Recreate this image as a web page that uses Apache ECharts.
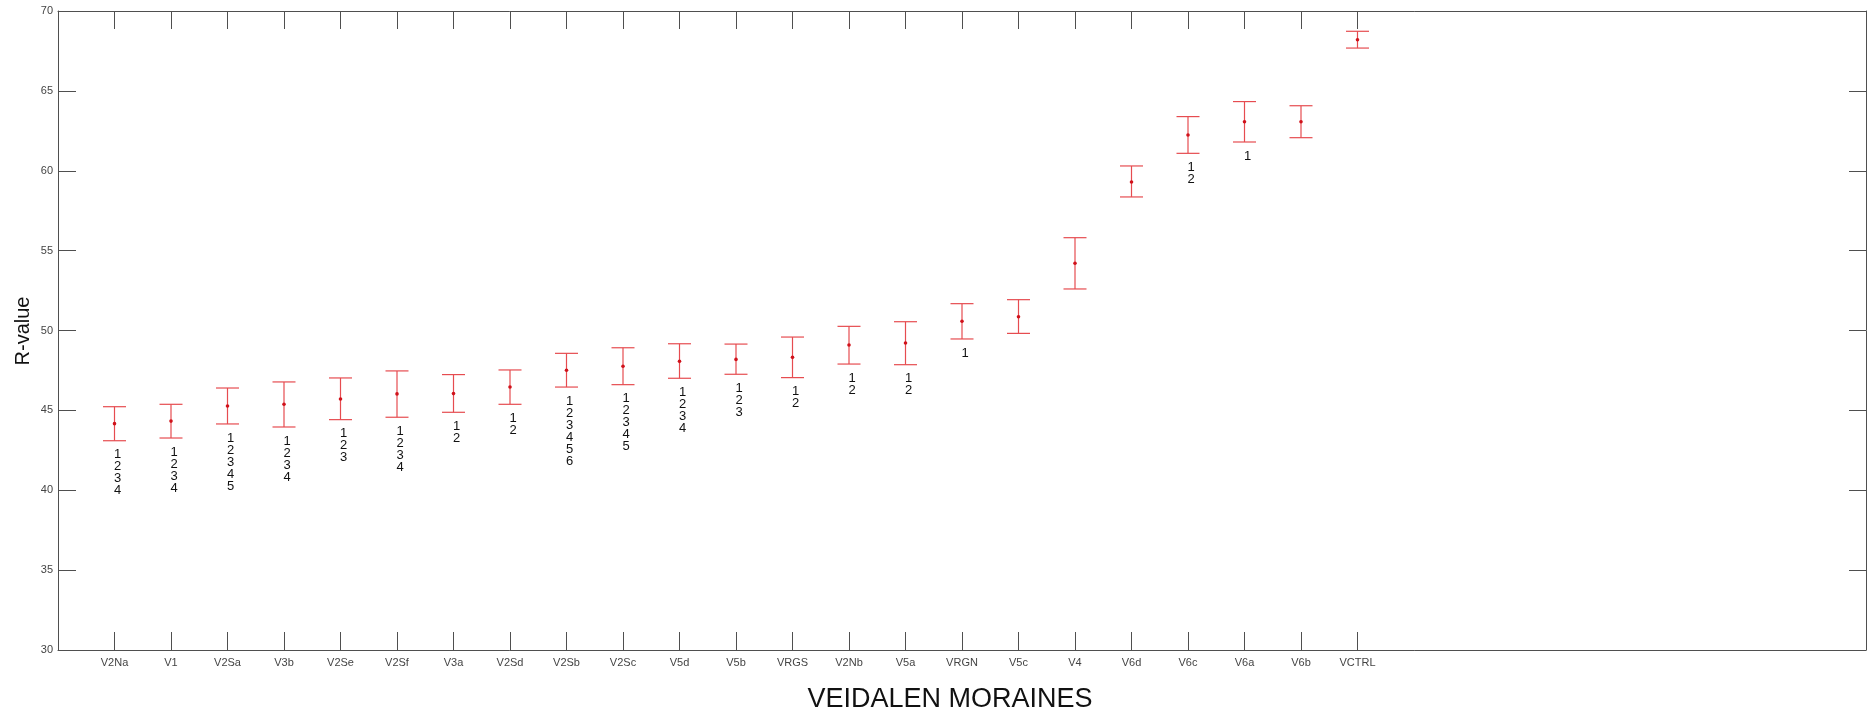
<!DOCTYPE html>
<html>
<head>
<meta charset="utf-8">
<title>Veidalen moraines R-value</title>
<script src="https://cdn.jsdelivr.net/npm/echarts@6/dist/echarts.min.js"></script>
<style>
  html, body { margin: 0; padding: 0; background: #fff; }
  #chart { width: 1867px; height: 716px; }
</style>
</head>
<body>
<div id="chart"></div>
<script>
// Moraine sites, ordered by mean R-value
const categories = ['V2Na','V1','V2Sa','V3b','V2Se','V2Sf','V3a','V2Sd','V2Sb','V2Sc','V5d','V5b','VRGS','V2Nb','V5a','VRGN','V5c','V4','V6d','V6c','V6a','V6b','VCTRL'];
// Mean R-value per site
const means = [44.17,44.33,45.27,45.38,45.71,46.03,46.05,46.46,47.51,47.76,48.07,48.19,48.32,49.09,49.22,50.58,50.86,54.21,59.30,62.24,63.07,63.07,68.20];
// Upper and lower ends of the error bars
const upper = [45.23,45.38,46.40,46.78,47.03,47.47,47.24,47.53,48.57,48.92,49.17,49.15,49.59,50.26,50.55,51.68,51.93,55.81,60.30,63.39,64.33,64.07,68.73];
const lower = [43.10,43.27,44.15,43.96,44.42,44.57,44.88,45.38,46.46,46.61,47.01,47.26,47.05,47.90,47.86,49.47,49.82,52.60,58.36,61.09,61.80,62.07,67.68];
// Homogeneous-group membership printed under each bar
const groups = ['1234','1234','12345','1234','123','1234','12','12','123456','12345','1234','123','12','12','12','1','','','','12','1','',''];
// Y axis ticks
const yMin = 30, yMax = 70, yStep = 5;
// Empty slots on the category axis (one before the first site, the rest after the last)
const leadSlots = 1, tailSlots = 9;

const slots = [].concat(Array(leadSlots).fill(''), categories, Array(tailSlots).fill(''));
const isSite = (i) => i >= leadSlots && i < leadSlots + categories.length;

const barData = categories.map((c, i) => [
  i + leadSlots, means[i], lower[i], upper[i], groups[i].split('').join('\n')
]);

const axisColor = '#4f4f4f';
const barColor = '#e64c50';
const font = '"Liberation Sans", Arial, Helvetica, sans-serif';

const chart = echarts.init(document.getElementById('chart'), null, { renderer: 'canvas' });

const option = {
  backgroundColor: '#ffffff',
  animation: false,
  textStyle: { fontFamily: font },
  grid: { left: 58, right: 1, top: 11, bottom: 66, containLabel: false },
  xAxis: [
    {
      type: 'category',
      data: slots,
      boundaryGap: false,
      position: 'bottom',
      axisLine: { show: true, lineStyle: { color: axisColor, width: 1 } },
      axisTick: { show: true, inside: true, length: 18, interval: (i) => isSite(i), lineStyle: { color: axisColor } },
      axisLabel: { show: true, interval: (i) => isSite(i), color: '#444', fontSize: 11, margin: 7, fontFamily: font },
      splitLine: { show: false }
    },
    {
      type: 'category',
      data: slots,
      boundaryGap: false,
      position: 'top',
      axisLine: { show: true, lineStyle: { color: axisColor, width: 1 } },
      axisTick: { show: true, inside: true, length: 18, interval: (i) => isSite(i), lineStyle: { color: axisColor } },
      axisLabel: { show: false },
      splitLine: { show: false }
    }
  ],
  yAxis: [
    {
      type: 'value',
      min: yMin, max: yMax, interval: yStep,
      position: 'left',
      axisLine: { show: true, lineStyle: { color: axisColor, width: 1 } },
      axisTick: { show: true, inside: true, length: 18, lineStyle: { color: axisColor } },
      axisLabel: { color: '#444', fontSize: 11, margin: 5, fontFamily: font },
      splitLine: { show: false }
    },
    {
      type: 'value',
      min: yMin, max: yMax, interval: yStep,
      position: 'right',
      axisLine: { show: true, lineStyle: { color: axisColor, width: 1 } },
      axisTick: { show: true, inside: true, length: 17, lineStyle: { color: axisColor } },
      axisLabel: { show: false },
      splitLine: { show: false }
    }
  ],
  series: [
    {
      type: 'custom',
      xAxisIndex: 0,
      yAxisIndex: 0,
      data: barData,
      encode: { x: 0, y: [1, 2, 3] },
      renderItem: function (params, api) {
        const slot = api.value(0);
        const mid = api.coord([slot, api.value(1)]);
        const lo = api.coord([slot, api.value(2)]);
        const hi = api.coord([slot, api.value(3)]);
        const capHalf = 11.5;
        const stroke = { stroke: barColor, lineWidth: 1.2 };
        const children = [
          { type: 'line', shape: { x1: mid[0], y1: hi[1], x2: mid[0], y2: lo[1] }, style: stroke },
          { type: 'line', shape: { x1: mid[0] - capHalf, y1: hi[1], x2: mid[0] + capHalf, y2: hi[1] }, style: stroke },
          { type: 'line', shape: { x1: mid[0] - capHalf, y1: lo[1], x2: mid[0] + capHalf, y2: lo[1] }, style: stroke },
          { type: 'circle', shape: { cx: mid[0], cy: mid[1], r: 1.8 }, style: { fill: '#d0121b' } }
        ];
        const label = barData[params.dataIndex][4];
        if (label) {
          children.push({
            type: 'text',
            style: {
              text: label,
              x: mid[0] + 3,
              y: lo[1] + 8,
              textAlign: 'center',
              textVerticalAlign: 'top',
              font: '13px ' + font,
              fill: '#111',
              lineHeight: 12
            }
          });
        }
        return { type: 'group', children: children };
      }
    }
  ],
  graphic: [
    {
      type: 'text',
      x: 950, y: 700,
      style: {
        text: 'VEIDALEN MORAINES',
        font: '27px ' + font,
        fill: '#111',
        textAlign: 'center',
        textVerticalAlign: 'middle'
      }
    },
    {
      type: 'text',
      x: 23, y: 331,
      rotation: Math.PI / 2,
      style: {
        text: 'R-value',
        font: '20px ' + font,
        fill: '#111',
        textAlign: 'center',
        textVerticalAlign: 'middle'
      }
    }
  ]
};

chart.setOption(option);
</script>
</body>
</html>
